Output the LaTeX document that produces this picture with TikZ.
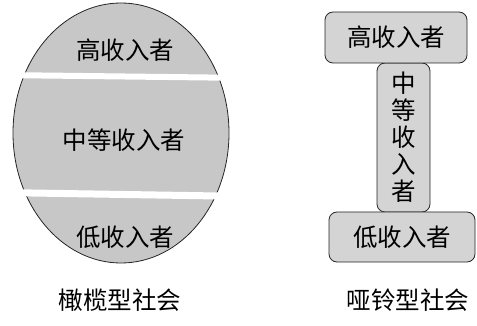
\documentclass[tikz,border=0pt]{standalone}
\usepackage{fontspec}
\setmainfont{Noto Sans CJK SC}
\usetikzlibrary{shapes.geometric}
\begin{document}
\begin{tikzpicture}[%
        x=1pt,y=-1pt,%
        olive/.style={%
            ellipse,%
            minimum width=216,%
            minimum height=260,%
            inner sep=0pt,%
            thick,%
            draw=black!85,%
            fill=black!22%
        },%
        gap/.style={%
            fill=white%
        },%
        block/.style={%
            rounded corners=8pt,%
            inner sep=0pt,%
            align=center,%
            thick,%
            draw=black!85,%
            fill=black!17%
        },%
        label/.style={%
            font=\fontsize{24.5}{27}\selectfont%
        }%
    ]
    \useasboundingbox (0,0) rectangle (477,326);
    % olive-shaped society
    \node (olive) at (121,133) [olive]{};
    \fill [gap] (0,72) -- (250,75) -- (250,81) -- (0,78) -- cycle;
    \fill [gap] (0,189) -- (250,193) -- (250,200) -- (0,196) -- cycle;
    \node (ohigh) at (125,50) [label]{高收入者};
    \node (omid) at (124,140) [label]{中等收入者};
    \node (olow) at (125,237) [label]{低收入者};
    \node (ocap) at (120,300) [label]{橄榄型社会};
    % dumbbell-shaped society
    \node (dmid) at (403.5,137.5) [block,minimum width=53,minimum height=149,label]{中\\等\\收\\入\\者};
    \node (dhigh) at (396,37.5) [block,minimum width=142,minimum height=51,label]{高收入者};
    \node (dlow) at (402,237) [block,minimum width=146,minimum height=50,label]{低收入者};
    \node (dcap) at (408,300) [label]{哑铃型社会};
\end{tikzpicture}
\end{document}
